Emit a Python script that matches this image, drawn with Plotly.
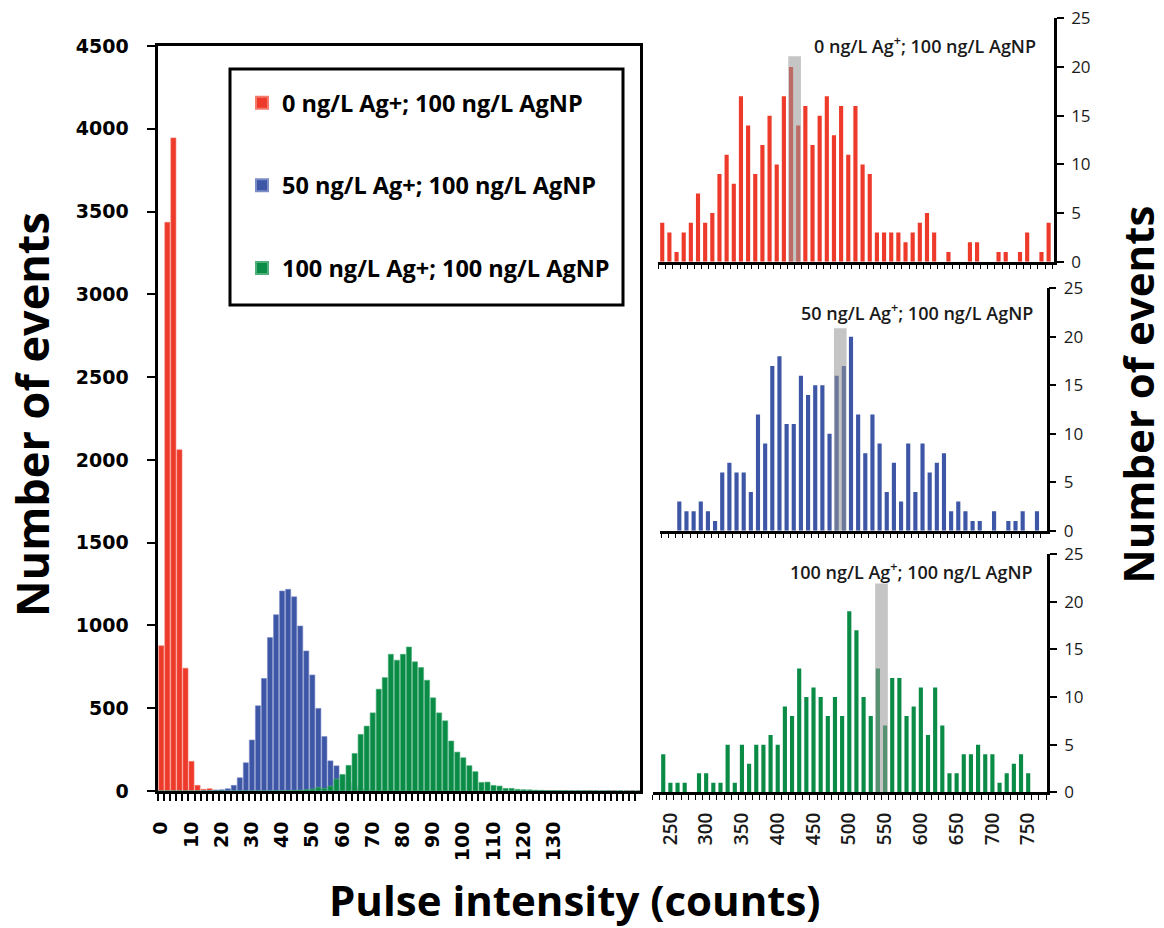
import plotly.graph_objects as go

W, H = 1164, 928

# ---------------- data ----------------
# Left histogram: pulse intensity bins (width 2 counts), number of events
left_bins = list(range(0, 160, 2))
red_counts = [877, 3435, 3945, 2061, 742, 179, 34, 10, 14, 4,
              2, 1, 0, 0, 0, 0, 0, 0, 0, 0,
              0, 0, 0, 0, 0, 0, 0, 0, 0, 0,
              0, 0, 0, 0, 0, 0, 0, 0, 0, 0,
              0, 0, 0, 0, 0, 0, 0, 0, 0, 0,
              0, 0, 0, 0, 0, 0, 0, 0, 0, 0,
              0, 0, 0, 0, 0, 0, 0, 0, 0, 0,
              0, 3, 0, 0, 0, 2, 0, 0, 3, 0]
blue_counts = [0, 0, 0, 0, 0, 0, 0, 2, 3, 6,
               8, 14, 34, 80, 171, 308, 515, 680, 927, 1065,
               1208, 1218, 1173, 997, 846, 701, 499, 329, 182, 152,
               95, 50, 28, 14, 8, 5, 3, 2, 1, 0,
               0, 0, 0, 0, 0, 0, 0, 0, 0, 0,
               0, 0, 0, 0, 0, 0, 0, 0, 0, 0,
               0, 0, 0, 0, 0, 0, 0, 0, 0, 0,
               0, 0, 0, 0, 0, 0, 0, 0, 0, 0]
green_counts = [0, 0, 0, 0, 0, 0, 0, 0, 0, 0,
                0, 0, 0, 0, 0, 0, 0, 0, 0, 1,
                2, 2, 4, 5, 8, 12, 22, 16, 30, 72,
                100, 155, 227, 342, 392, 472, 615, 685, 826, 790,
                826, 870, 780, 746, 669, 563, 472, 424, 302, 235,
                201, 153, 117, 52, 54, 34, 30, 16, 16, 10,
                8, 7, 5, 4, 3, 3, 2, 2, 1, 1,
                1, 1, 1, 0, 1, 0, 1, 0, 0, 0]
series_names = ["0 ng/L Ag+; 100 ng/L AgNP",
                "50 ng/L Ag+; 100 ng/L AgNP",
                "100 ng/L Ag+; 100 ng/L AgNP"]
left_xticks = [0, 10, 20, 30, 40, 50, 60, 70, 80, 90, 100, 110, 120, 130]
left_yticks = [0, 500, 1000, 1500, 2000, 2500, 3000, 3500, 4000, 4500]

# Right panels: pulse intensity bins (width 10 counts)
top_bins = list(range(240, 790, 10))
top_counts = [4, 3, 1, 3, 4, 7, 4, 5, 9, 11, 8, 17, 14, 9, 12, 15, 10, 17, 20, 14,
              16, 12, 15, 17, 13, 16, 11, 16, 10, 9, 3, 3, 3, 3, 2, 3, 4, 5, 3, 0,
              1, 0, 0, 2, 2, 0, 0, 1, 1, 0, 1, 3, 0, 1, 4]
mid_bins = list(range(260, 770, 10))
mid_counts = [3, 2, 2, 3, 2, 1, 6, 7, 6, 6, 4, 12, 9, 17, 18, 11, 11, 16, 14, 15,
              15, 10, 16, 17, 20, 12, 8, 12, 9, 4, 7, 3, 9, 4, 9, 6, 7, 8, 2, 3,
              2, 1, 1, 0, 2, 0, 1, 1, 2, 0, 2]
bot_bins = list(range(240, 760, 10))
bot_counts = [4, 1, 1, 1, 0, 2, 2, 1, 1, 5, 1, 5, 3, 5, 5, 6, 5, 9, 8, 13,
              10, 11, 10, 8, 10, 8, 19, 17, 10, 8, 13, 7, 12, 12, 8, 9, 11, 6, 11, 7,
              2, 2, 4, 4, 5, 4, 4, 1, 2, 3, 4, 2]
right_xticks = [250, 300, 350, 400, 450, 500, 550, 600, 650, 700, 750]
right_yticks = [0, 5, 10, 15, 20, 25]
panel_labels = ["0 ng/L Ag<sup>+</sup>; 100 ng/L AgNP",
                "50 ng/L Ag<sup>+</sup>; 100 ng/L AgNP",
                "100 ng/L Ag<sup>+</sup>; 100 ng/L AgNP"]
highlight_center = [425, 485, 545]
highlight_top = [21.1, 20.9, 21.9]
highlight_width = 17.7

colors = ["#EE3A2A", "#3D56A6", "#0A8C47"]
edge_colors = ["#F47A6C", "#7C8DC6", "#4FB07C"]


def fx(px):
    return px / W


def fy(py):
    return 1 - py / H


fig = go.Figure()

# left histogram
for name, counts, c, ec in zip(series_names, [red_counts, blue_counts, green_counts],
                               colors, edge_colors):
    fig.add_trace(go.Bar(x=left_bins, y=counts, width=1.7, name=name,
                         legendgroup=name,
                         marker=dict(color=c, line=dict(color=ec, width=0.6)),
                         xaxis="x", yaxis="y"))

# right panels
panels = [(top_bins, top_counts, "x2", "y2"),
          (mid_bins, mid_counts, "x3", "y3"),
          (bot_bins, bot_counts, "x4", "y4")]
for i, (b, cts, xa, ya) in enumerate(panels):
    fig.add_trace(go.Bar(x=b, y=cts, width=5.8, showlegend=False,
                         marker=dict(color=colors[i], line=dict(width=0)),
                         xaxis=xa, yaxis=ya))
    fig.add_trace(go.Bar(x=[highlight_center[i]], y=[highlight_top[i]],
                         width=highlight_width, showlegend=False,
                         marker=dict(color="rgba(150,150,150,0.55)", line=dict(width=0)),
                         xaxis=xa, yaxis=ya))

tick_font_left = dict(family="DejaVu Sans", size=19, color="black", weight="bold")
tick_font_right = dict(family="Open Sans", size=17, color="#1a1a1a")

layout = dict(
    width=W, height=H,
    margin=dict(l=0, r=0, t=0, b=0, pad=0, autoexpand=False),
    paper_bgcolor="white", plot_bgcolor="white",
    barmode="overlay",
    showlegend=True,
    legend=dict(x=fx(242), y=fy(81), xanchor="left", yanchor="top",
                bgcolor="rgba(0,0,0,0)", borderwidth=0,
                font=dict(family="Open Sans", size=23.5, color="black", weight="bold"),
                tracegroupgap=49, itemsizing="constant"),
    xaxis=dict(domain=[fx(157.5), fx(640)], range=[-1.26, 158.5], anchor="y",
               automargin=False,
               tickmode="array", tickvals=left_xticks, ticks="outside", ticklen=0,
               tickangle=-90, tickfont=tick_font_left, ticklabelstandoff=20,
               showline=True, linecolor="black", linewidth=3, mirror=True,
               showgrid=False, zeroline=False,
               minor=dict(tickmode="linear", tick0=-1, dtick=2, ticks="outside",
                          ticklen=7, tickwidth=1.5, tickcolor="black", showgrid=False)),
    yaxis=dict(domain=[fy(791), fy(46)], range=[0, 4500], anchor="x",
               automargin=False,
               tickmode="array", tickvals=left_yticks, ticks="outside", ticklen=8,
               tickwidth=2, tickcolor="black", tickfont=tick_font_left,
               ticklabelstandoff=14,
               showline=True, linecolor="black", linewidth=3, mirror=True,
               showgrid=False, zeroline=False),
)

right_x = [("xaxis2", "y2", 658.3, 1054, [234.5, 787.5], 235),
           ("xaxis3", "y3", 660, 1046.7, [233, 773.6], 235),
           ("xaxis4", "y4", 652.5, 1047, [225, 776.3], 225)]
right_y = [("yaxis2", "x2", 261.7, 18.4),
           ("yaxis3", "x3", 530.7, 288.4),
           ("yaxis4", "x4", 792.3, 554)]
for i, ((xk, anc, l, r, rng, t0), (yk, yanc, b, t)) in enumerate(zip(right_x, right_y)):
    xd = dict(domain=[fx(l), fx(r)], range=rng, anchor=anc, automargin=False,
              showline=True, linecolor="black", linewidth=2.5,
              showgrid=False, zeroline=False,
              minor=dict(tickmode="linear", tick0=t0, dtick=10, ticks="outside",
                         ticklen=5, tickwidth=1.3, tickcolor="black", showgrid=False))
    if i == 2:
        xd.update(tickmode="array", tickvals=right_xticks, ticks="outside", ticklen=0,
                  tickangle=-90, ticklabelstandoff=10,
                  tickfont=dict(family="Open Sans", size=19, color="#1a1a1a", weight=600))
    else:
        xd.update(showticklabels=False, ticks="")
    layout[xk] = xd
    layout[yk] = dict(domain=[fy(b), fy(t)], range=[0, 25], anchor=yanc, side="right",
                      automargin=False,
                      tickmode="array", tickvals=right_yticks, ticks="outside",
                      ticklen=7, tickwidth=2, tickcolor="black",
                      tickfont=tick_font_right, ticklabelstandoff=4,
                      showline=True, linecolor="black", linewidth=2.5,
                      showgrid=False, zeroline=False)

fig.update_layout(**layout)

# legend frame
fig.add_shape(type="rect", xref="paper", yref="paper",
              x0=fx(230), x1=fx(623), y0=fy(305), y1=fy(69),
              line=dict(color="black", width=3), fillcolor="rgba(0,0,0,0)")

fig.add_annotation(text="Number of events", xref="paper", yref="paper",
                   x=fx(31), y=fy(415), textangle=-90, showarrow=False,
                   font=dict(family="Open Sans", size=45, color="black", weight="bold"),
                   xanchor="center", yanchor="middle")
fig.add_annotation(text="Number of events", xref="paper", yref="paper",
                   x=fx(1136.5), y=fy(395), textangle=-90, showarrow=False,
                   font=dict(family="Open Sans", size=42, color="black", weight="bold"),
                   xanchor="center", yanchor="middle")
fig.add_annotation(text="Pulse intensity (counts)", xref="paper", yref="paper",
                   x=fx(575), y=fy(899), showarrow=False,
                   font=dict(family="Open Sans", size=42, color="black", weight="bold"),
                   xanchor="center", yanchor="middle")

label_pos = [(1038, 45), (1035, 312), (1035, 571)]
for txt, (px, py) in zip(panel_labels, label_pos):
    fig.add_annotation(text=txt, xref="paper", yref="paper", x=fx(px), y=fy(py),
                       showarrow=False, xanchor="right", yanchor="middle",
                       font=dict(family="Open Sans", size=18, color="#1a1a1a", weight=600))

fig.write_html("out.html")
